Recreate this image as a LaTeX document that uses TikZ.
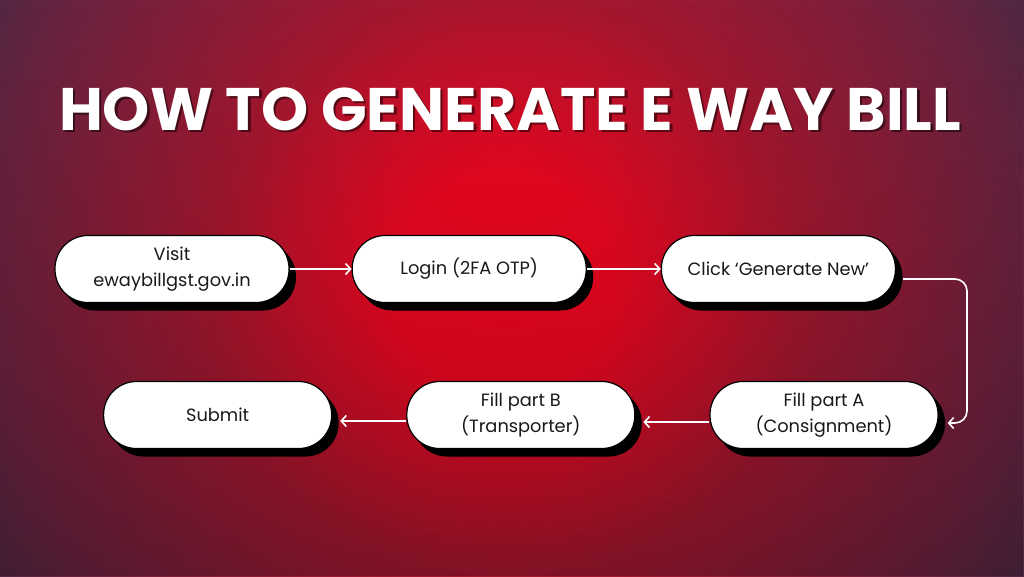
\documentclass[tikz,border=0pt]{standalone}
\usepackage{fontspec}
\setmainfont{Poppins}
\usetikzlibrary{positioning}
\usetikzlibrary{arrows.meta}
\usetikzlibrary{shadows}
\usetikzlibrary{fadings}

\definecolor{glowcentre}{HTML}{F4061F}
\definecolor{glowinner}{HTML}{C8102A}
\definecolor{glowmid}{HTML}{A5172F}
\definecolor{glowdark}{HTML}{6A2340}
\definecolor{glowedge}{HTML}{4C2843}
\pgfdeclareradialshading{redglow}{\pgfpoint{0bp}{0bp}}{color(0bp)=(glowcentre); color(110bp)=(glowcentre!88!glowinner); color(210bp)=(glowinner); color(290bp)=(glowmid); color(512bp)=(glowdark); color(600bp)=(glowedge)}

\begin{document}
\begin{tikzpicture}[
        x=1pt, y=-1pt,
        >={Straight Barb[length=5pt,width=11pt]},
        stepnode/.style={rectangle, rounded corners=33pt, draw=black, line width=1.2pt, fill=white, text=black!90,
            minimum height=67pt, align=center, font=\fontsize{17.8}{26.5}\selectfont,
            drop shadow={shadow xshift=7pt, shadow yshift=-8pt, fill=black, opacity=1}},
        toprow/.style={stepnode, minimum width=234pt},
        bottomrow/.style={stepnode, minimum width=228pt},
        flow/.style={->, draw=white, line width=1.6pt},
        headline/.style={anchor=base, font=\fontsize{60}{60}\selectfont\bfseries}
    ]

        % background glow
        \begin{scope}
            \clip (0,0) rectangle (1024,576);
            \node [inner sep=0pt] (glow) at (505,285) {\pgfuseshading{redglow}};
            \fill [black, opacity=0.22, path fading=north] (0,0) rectangle (1024,576);
        \end{scope}
        \useasboundingbox (0,0) rectangle (1024,576);

        \node [headline, text=black, opacity=0.5] (titleshadow) at (512.5,132.5) {HOW TO GENERATE E WAY BILL};
        \node [headline, text=white] (title) at (510,130) {HOW TO GENERATE E WAY BILL};

        \node [toprow] (visit) at (172,269) {Visit\\ewaybillgst.gov.in};
        \node [toprow] (login) [right=62pt of visit] {Login (2FA OTP)};
        \node [toprow] (generate) [right=74pt of login] {Click ‘Generate New’};
        \node [bottomrow] (partA) at (824,415) {Fill part A\\(Consignment)};
        \node [bottomrow] (partB) [left=74pt of partA] {Fill part B\\(Transporter)};
        \node [bottomrow] (submit) [left=74pt of partB] {Submit};

        \draw [flow] (visit) -- (login);
        \draw [flow] (login) -- (generate);
        \draw [flow, rounded corners=12pt] ([xshift=7pt,yshift=-10pt]generate.east) -- ++(64,0) |- ([xshift=9pt,yshift=-8pt]partA.east);
        \draw [flow] ([yshift=-7pt]partA.west) -- ([xshift=8pt,yshift=-7pt]partB.east);
        \draw [flow] ([yshift=-6pt]partB.west) -- ([xshift=8pt,yshift=-6pt]submit.east);

    \end{tikzpicture}
\end{document}
